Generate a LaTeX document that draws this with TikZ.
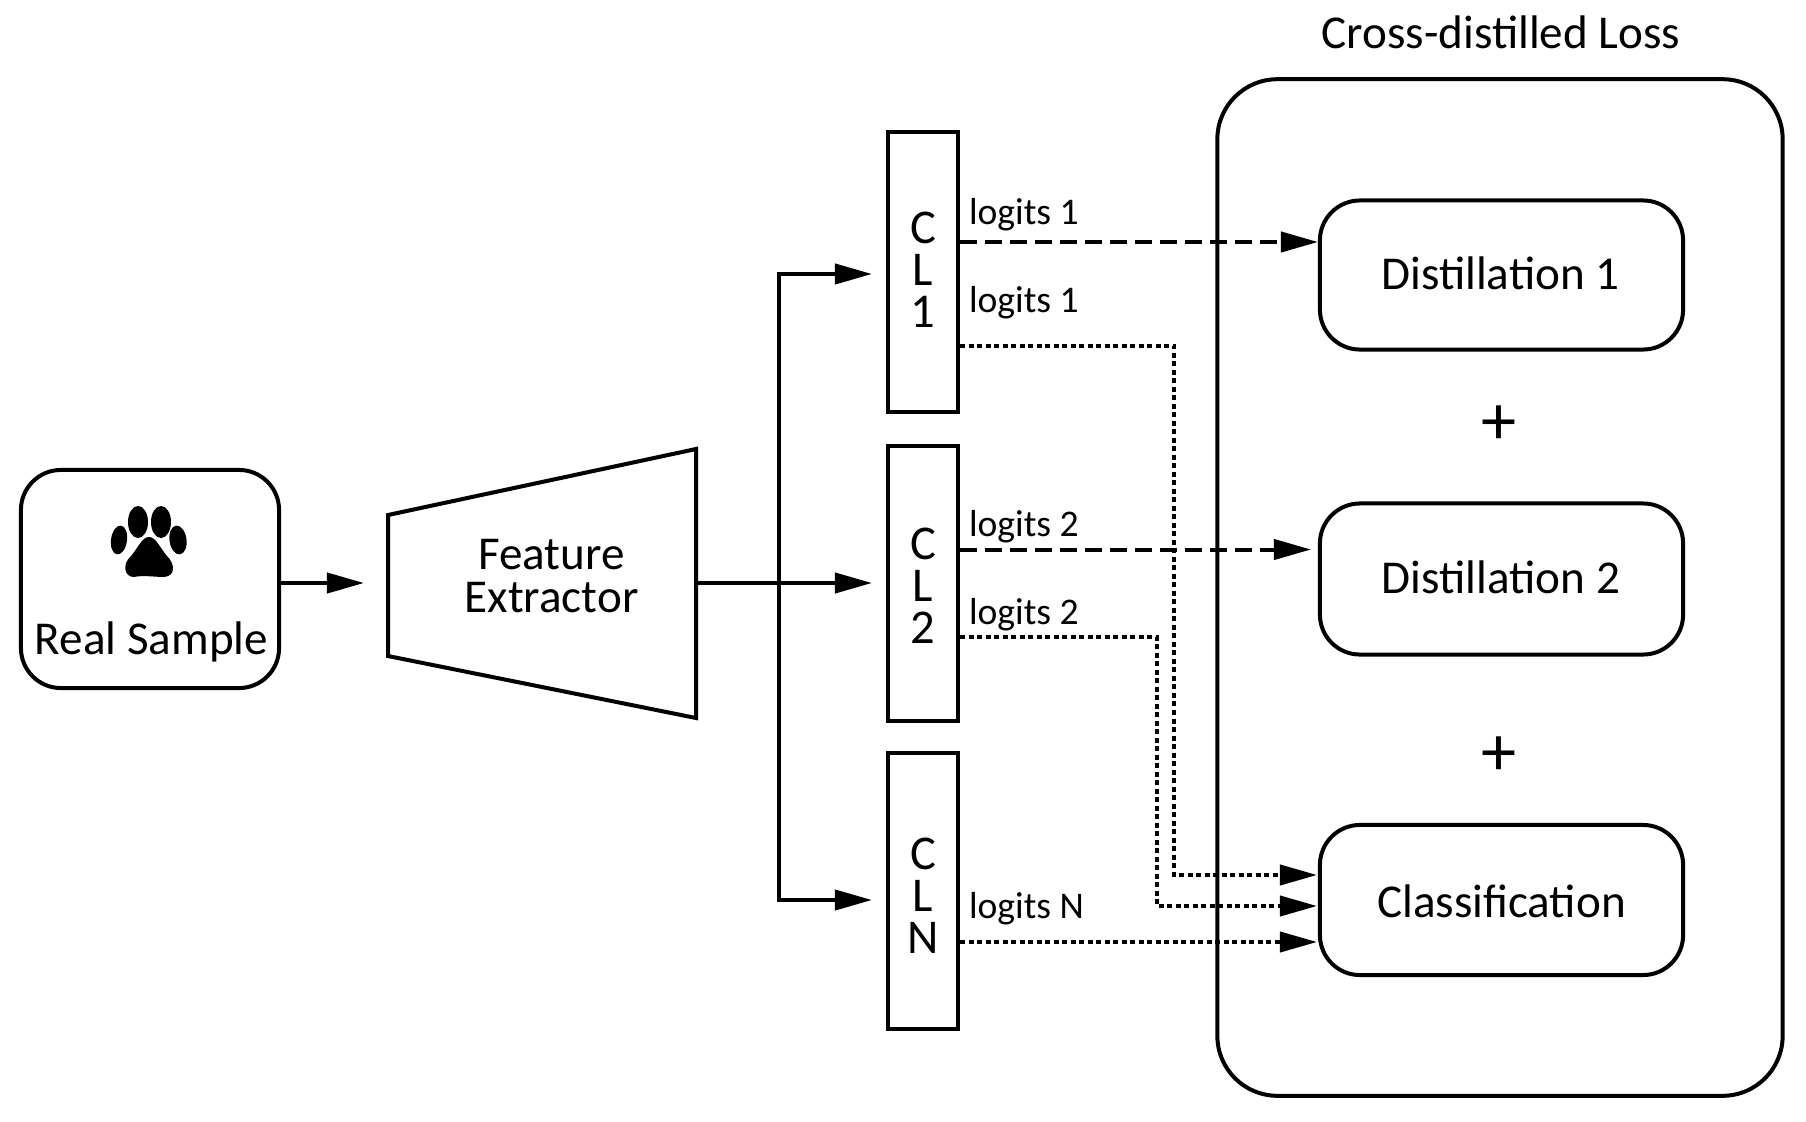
\documentclass[tikz,border=0pt]{standalone}
\usepackage{fontspec}
\setmainfont{Carlito}
\usetikzlibrary{arrows.meta,calc}
\tikzset{
x=0.01cm,y=-0.01cm,
every path/.style={line width=.04cm},
txtbox/.style={draw=black,fill=white,rounded corners=.4cm,inner sep=0pt},
clsbox/.style={draw=black,fill=white,inner sep=0pt,minimum width=.70cm},
clstxt/.style={inner sep=0pt,align=center,font=\fontsize{13.8}{12}\selectfont},
lossbox/.style={txtbox,minimum width=3.63cm},
bigtxt/.style={inner sep=0pt,align=center,font=\fontsize{13.4}{12}\selectfont},
plustxt/.style={inner sep=0pt,font=\fontsize{20}{15}\selectfont},
arr/.style={-{Triangle[length=.37cm,width=.2cm]}},
dashline/.style={arr,dash pattern=on .17cm off .08cm},
dotline/.style={arr,dash pattern=on .05cm off .035cm},
lbl/.style={anchor=west,inner sep=0pt,font=\fontsize{10.7}{12}\selectfont}
}
\begin{document}
\begin{tikzpicture}
\useasboundingbox (0,0) rectangle (1806,1121);
\node[draw=black,rounded corners=.6cm,minimum width=5.65cm,minimum height=10.16cm,inner sep=0pt] (loss) at (1500,587.5) {};
\node[bigtxt] (losstitle) at (1501,32) {Cross-distilled Loss};
% real sample
\node[txtbox,minimum width=2.58cm,minimum height=2.18cm] (sample) at (150,579) {};
\node[bigtxt] (sampletxt) at (151.5,642) {Real Sample};
\fill (138,522) ellipse [x radius=10,y radius=16];
\fill (161,522) ellipse [x radius=10,y radius=16];
\fill[rotate around={-8:(119,540)}] (119,540) ellipse [x radius=8,y radius=14.5];
\fill[rotate around={8:(178,540)}] (178,540) ellipse [x radius=8.5,y radius=14.5];
\fill (149,537) .. controls (156,537) and (160,548) .. (167,556) .. controls (175,564) and (176,576) .. (164,577) .. controls (156,577) and (142,575) .. (134,577) .. controls (124,577) and (122,564) .. (131,556) .. controls (138,548) and (142,537) .. (149,537) -- cycle;
% feature extractor
\coordinate (f1) at (388,515);
\coordinate (f2) at (696,449);
\coordinate (f3) at (696,718);
\coordinate (f4) at (388,656);
\draw (f1)--(f2)--(f3)--(f4)--cycle;
\node[bigtxt] (fe) at (551.5,576) {Feature\\Extractor};
% classifiers
\node[clsbox,minimum height=2.8cm] (clone) at (923,272) {};
\node[clsbox,minimum height=2.75cm] (cltwo) at (923,583.5) {};
\node[clsbox,minimum height=2.76cm] (cln) at (923,891) {};
\node[clstxt] (clonetxt) at (923,270) {C\\L\\1};
\node[clstxt] (cltwotxt) at (923,586) {C\\L\\2};
\node[clstxt] (clntxt) at (923,896) {C\\L\\N};
% losses
\node[lossbox,minimum height=1.49cm] (distone) at (1501.5,275) {};
\node[lossbox,minimum height=1.51cm] (disttwo) at (1501.5,579) {};
\node[lossbox,minimum height=1.5cm] (classif) at (1501.5,900) {};
\node[bigtxt] (distonetxt) at (1500.5,273) {Distillation 1};
\node[bigtxt] (disttwotxt) at (1501,577) {Distillation 2};
\node[bigtxt] (classiftxt) at (1501.5,901) {Classification};
\node[plustxt] (plusa) at (1499,425) {+};
\node[plustxt] (plusb) at (1499,756) {+};
% free ends
\coordinate (fein) at (364,583);
\coordinate (feout) at (696,583);
\coordinate (branch) at (779,583);
\coordinate (inone) at (872,274);
\coordinate (intwo) at (872,583);
\coordinate (inn) at (872,900);
\draw[arr] (sample.east |- fein) -- (fein);
\draw (feout) -- (branch);
\draw[arr] (branch) -- (intwo);
\draw[arr] (branch) |- (inone);
\draw[arr] (branch) |- (inn);
\draw[dashline] (clone.east |- 0,242) -- (1318,242);
\draw[dashline] (cltwo.east |- 0,549.5) -- (1311,549.5);
\draw[dotline] (clone.east |- 0,345.6) -- (1174,345.6) -- (1174,875) -- (1317,875);
\draw[dotline] (cltwo.east |- 0,637) -- (1157,637) -- (1157,906) -- (1317,906);
\draw[dotline] (cln.east |- 0,942) -- (1317,942);
\foreach \y/\t in {215/logits 1,303/logits 1,527/logits 2,615/logits 2,909/logits N}{
\node[lbl] at (967,\y) {\t};
}
\end{tikzpicture}
\end{document}
